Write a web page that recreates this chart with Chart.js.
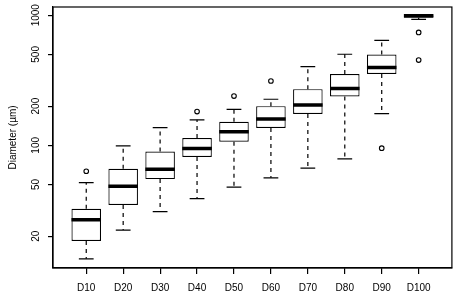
<!DOCTYPE html>
<html>
<head>
<meta charset="utf-8">
<script src="https://cdn.jsdelivr.net/npm/chart.js@4.4.1/dist/chart.umd.min.js"></script>
<style>
  html, body { margin: 0; padding: 0; background: #fff; }
  canvas { display: block; }
</style>
</head>
<body>
<canvas id="boxChart" width="457" height="302"></canvas>
<script>
// 箱线图数据（从图上读出来的估计值）
const categories = ['D10', 'D20', 'D30', 'D40', 'D50', 'D60', 'D70', 'D80', 'D90', 'D100'];
const lowerWhisker = [13.4, 22.3, 30.9, 38.9, 47.7, 56.2, 66.7, 78.7, 175, 930];
const q1Values     = [18.4, 34.8, 55, 81.4, 106.4, 136, 174, 237, 353, 955];
const medianValues = [26.8, 48.5, 65.5, 94.6, 127.3, 159, 204, 273, 397, 990];
const q3Values     = [32.5, 66, 89.6, 113.6, 151.8, 200, 270, 353, 499, 1000];
const upperWhisker = [51.7, 99, 136.6, 157, 189, 226, 402, 501, 640, 1000];
const outliers     = [[63.2], [], [], [181.5], [239], [312], [], [], [95], [737, 452]];
const yTickValues  = [20, 50, 100, 200, 500, 1000];

// 离群点 -> scatter 数据
const outlierPoints = [];
outliers.forEach((list, i) => list.forEach(v => outlierPoints.push({ x: i + 1, y: v })));

// 须线、须端、中位线和外框 用插件画
const boxExtras = {
  id: 'boxExtras',
  beforeDatasetsDraw(chart) {
    const { ctx, scales: { x, y } } = chart;
    const boxes = chart.getDatasetMeta(0).data;
    ctx.save();
    ctx.strokeStyle = '#000';
    ctx.lineWidth = 1.2;
    categories.forEach((_, i) => {
      const px = x.getPixelForValue(i + 1);
      const capHalf = boxes[i].width / 4;
      // 虚线须
      ctx.setLineDash([4, 4]);
      ctx.beginPath();
      ctx.moveTo(px, y.getPixelForValue(q3Values[i]));
      ctx.lineTo(px, y.getPixelForValue(upperWhisker[i]));
      ctx.moveTo(px, y.getPixelForValue(q1Values[i]));
      ctx.lineTo(px, y.getPixelForValue(lowerWhisker[i]));
      ctx.stroke();
      // 须端
      ctx.setLineDash([]);
      ctx.beginPath();
      [upperWhisker[i], lowerWhisker[i]].forEach(v => {
        const py = y.getPixelForValue(v);
        ctx.moveTo(px - capHalf, py);
        ctx.lineTo(px + capHalf, py);
      });
      ctx.stroke();
    });
    ctx.restore();
  },
  afterDatasetsDraw(chart) {
    const { ctx, chartArea, scales: { x, y } } = chart;
    const boxes = chart.getDatasetMeta(0).data;
    ctx.save();
    ctx.strokeStyle = '#000';
    ctx.lineWidth = 3.5;
    ctx.beginPath();
    medianValues.forEach((v, i) => {
      const px = x.getPixelForValue(i + 1);
      const half = boxes[i].width / 2;
      const py = y.getPixelForValue(v);
      ctx.moveTo(px - half, py);
      ctx.lineTo(px + half, py);
    });
    ctx.stroke();
    // 外框
    ctx.lineWidth = 1.2;
    ctx.strokeRect(chartArea.left, chartArea.top, chartArea.right - chartArea.left, chartArea.bottom - chartArea.top);
    ctx.restore();
  }
};

const fontSpec = { family: '"Liberation Sans", Arial, sans-serif', size: 10 };

new Chart(document.getElementById('boxChart'), {
  data: {
    datasets: [{
      type: 'bar',
      data: categories.map((_, i) => ({ x: i + 1, y: [q1Values[i], q3Values[i]] })),
      backgroundColor: '#fff',
      borderColor: '#000',
      borderWidth: 1.2,
      borderSkipped: false,
      barPercentage: 0.8,
      categoryPercentage: 1
    }, {
      type: 'scatter',
      data: outlierPoints,
      pointStyle: 'circle',
      pointRadius: 2.3,
      pointBackgroundColor: '#fff',
      pointBorderColor: '#000',
      pointBorderWidth: 1.1
    }]
  },
  options: {
    responsive: false,
    animation: false,
    devicePixelRatio: 1,
    layout: { padding: { top: 4, right: 4, left: 0, bottom: 0 } },
    plugins: {
      legend: { display: false },
      tooltip: { enabled: false }
    },
    scales: {
      x: {
        type: 'linear',
        offset: false,
        min: 0.1,
        max: 10.9,
        afterBuildTicks: scale => { scale.ticks = categories.map((_, i) => ({ value: i + 1 })); },
        afterFit: scale => { scale.height = 34; },
        ticks: {
          autoSkip: false,
          maxRotation: 0,
          padding: 8,
          color: '#000',
          font: fontSpec,
          callback: v => categories[v - 1]
        },
        grid: { display: true, offset: false, drawOnChartArea: false, drawTicks: true, tickLength: 6, color: '#000', lineWidth: 1.2 },
        border: { display: true, color: '#000', width: 1.2 }
      },
      y: {
        type: 'logarithmic',
        min: 11.4,
        max: 1156,
        afterBuildTicks: scale => { scale.ticks = yTickValues.map(v => ({ value: v })); },
        afterFit: scale => { scale.width = 53; },
        ticks: {
          minRotation: 90,
          maxRotation: 90,
          crossAlign: 'center',
          padding: 1,
          color: '#000',
          font: fontSpec,
          callback: v => String(v)
        },
        title: { display: true, text: 'Diameter (µm)', color: '#000', font: fontSpec, padding: { top: 7, bottom: 0 } },
        grid: { display: true, drawOnChartArea: false, drawTicks: true, tickLength: 5, color: '#000', lineWidth: 1.2 },
        border: { display: true, color: '#000', width: 1.2 }
      }
    }
  },
  plugins: [boxExtras]
});
</script>
</body>
</html>
